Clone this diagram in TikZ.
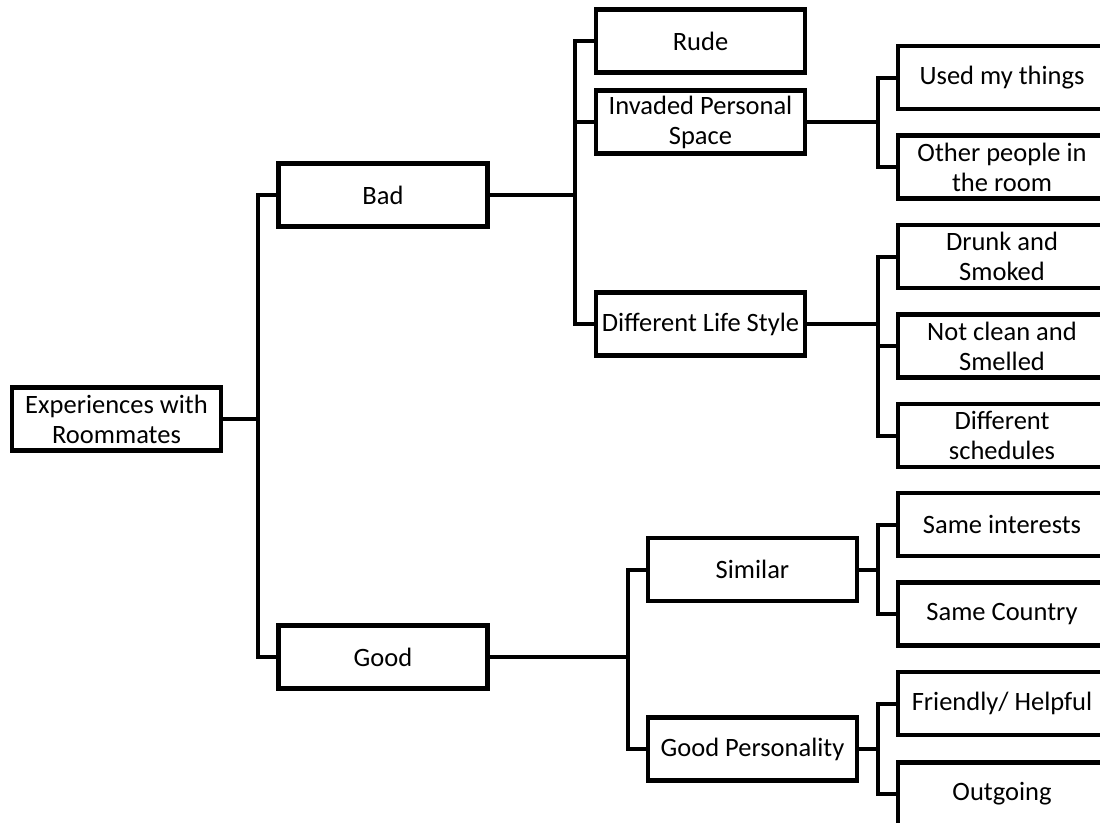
\documentclass[tikz,border=0pt]{standalone}
\usepackage{fontspec}
\setmainfont{Carlito}
\begin{document}
\begin{tikzpicture}[x=1pt,y=-1pt,
  box/.style={draw=black, line width=4.2pt, fill=white, rectangle,
    minimum width=209pt, minimum height=63pt, inner sep=0pt,
    align=center, font=\fontsize{26.5}{30}\selectfont},
  leafbox/.style={box, minimum width=208pt},
  link/.style={draw=black, line width=4pt, line join=miter}]
\useasboundingbox (0,0) rectangle (1100,822);
\clip (0,0) rectangle (1100,822);

% level 0
\node[box] (root) at (116.5,419) {Experiences with\\Roommates};
% level 1
\node[box] (bad)  at (383,195) {Bad};
\node[box] (good) at (383,657) {Good};
% level 2
\node[box] (rude)    at (700.5,41)  {Rude};
\node[box] (invaded) at (700.5,122) {Invaded Personal\\Space};
\node[box] (life)    at (700.5,324) {Different Life Style};
\node[box] (similar) at (752.5,569.5) {Similar};
\node[box] (person)  at (752.5,749) {Good Personality};
% level 3
\node[leafbox] (things)  at (1002,77.5)  {Used my things};
\node[leafbox] (others)  at (1002,167)   {Other people in\\the room};
\node[leafbox] (drunk)   at (1002,256.5) {Drunk and\\Smoked};
\node[leafbox] (clean)   at (1002,346)   {Not clean and\\Smelled};
\node[leafbox] (sched)   at (1002,435.5) {Different\\schedules};
\node[leafbox] (interest) at (1002,524.5) {Same interests};
\node[leafbox] (country) at (1002,614)   {Same Country};
\node[leafbox] (friend)  at (1002,703.5) {Friendly/ Helpful};
\node[leafbox] (outgo)   at (1002,794)   {Outgoing};

% fork points of the bracket connectors
\coordinate (frRoot)    at (258,419);
\coordinate (frBad)     at (575,195);
\coordinate (frGood)    at (628,657);
\coordinate (frInvaded) at (878,122);
\coordinate (frLife)    at (878,324);
\coordinate (frSimilar) at (878,569.5);
\coordinate (frPerson)  at (878,749);

\path[link] (root.east) -- (frRoot);
\path[link] (bad.west) -| (frRoot);
\path[link] (good.west) -| (frRoot);

\path[link] (bad.east) -- (frBad);
\path[link] (rude.west) -| (frBad);
\path[link] (invaded.west) -| (frBad);
\path[link] (life.west) -| (frBad);

\path[link] (good.east) -- (frGood);
\path[link] (similar.west) -| (frGood);
\path[link] (person.west) -| (frGood);

\path[link] (invaded.east) -- (frInvaded);
\path[link] (things.west) -| (frInvaded);
\path[link] (others.west) -| (frInvaded);

\path[link] (life.east) -- (frLife);
\path[link] (drunk.west) -| (frLife);
\path[link] (clean.west) -| (frLife);
\path[link] (sched.west) -| (frLife);

\path[link] (similar.east) -- (frSimilar);
\path[link] (interest.west) -| (frSimilar);
\path[link] (country.west) -| (frSimilar);

\path[link] (person.east) -- (frPerson);
\path[link] (friend.west) -| (frPerson);
\path[link] (outgo.west) -| (frPerson);
\end{tikzpicture}
\end{document}
